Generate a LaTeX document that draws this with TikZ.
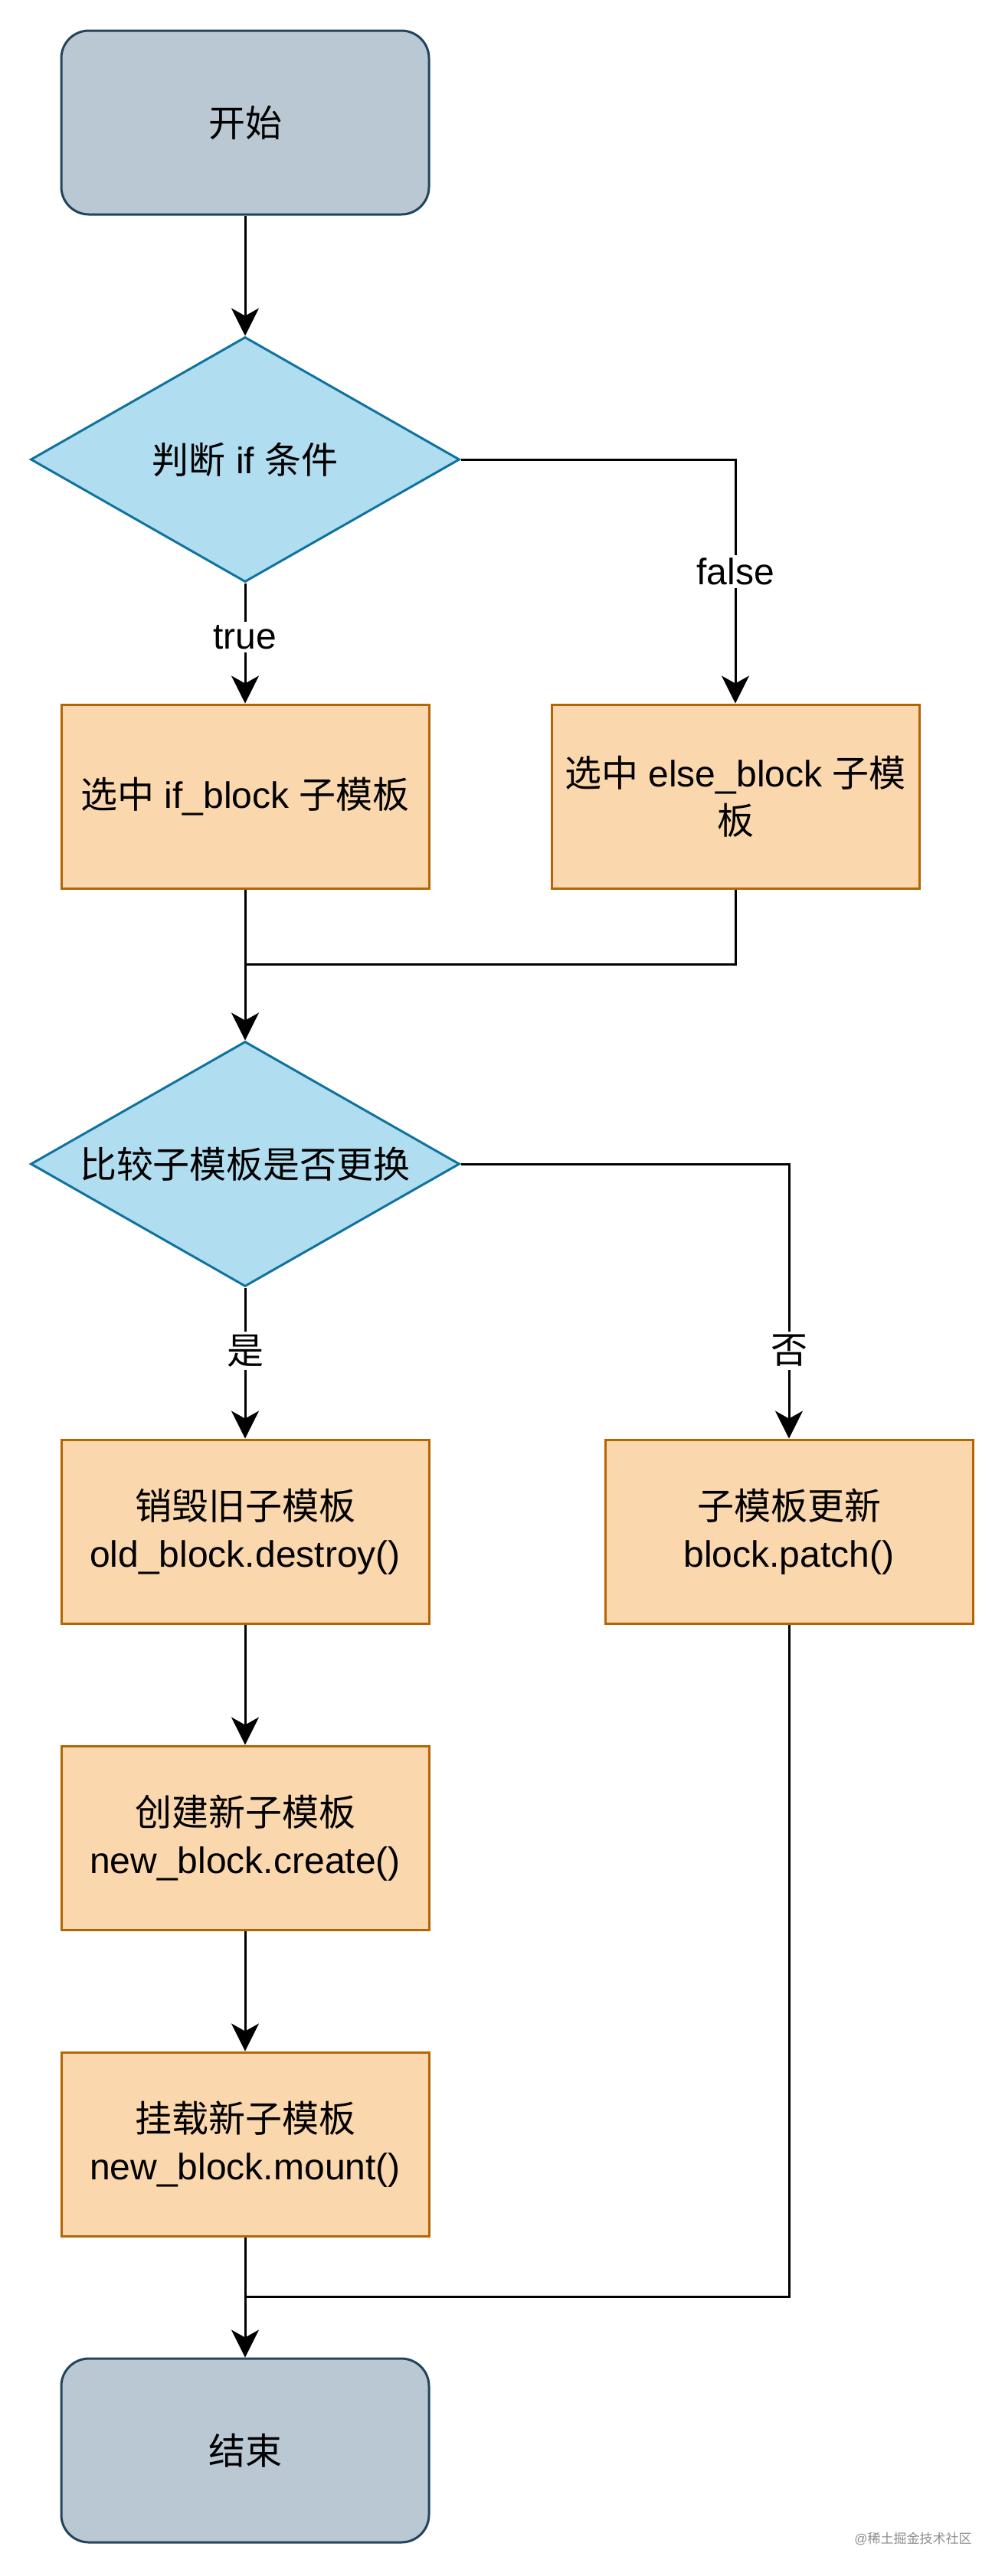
\documentclass[tikz,border=0pt]{standalone}
\usepackage{fontspec}
\setmainfont{Liberation Sans}
\newfontfamily\cjk{Noto Sans CJK SC}
\usepackage{tikz}
\usetikzlibrary{arrows.meta, positioning, shapes.geometric}
\definecolor{termfill}{HTML}{BAC8D3}
\definecolor{termline}{HTML}{23445D}
\definecolor{decfill}{HTML}{B1DDF0}
\definecolor{decline}{HTML}{10739E}
\definecolor{procfill}{HTML}{FAD7AC}
\definecolor{procline}{HTML}{B46504}
\newcommand{\flowfont}{\fontsize{24}{31}\selectfont}
\tikzstyle{arrow}=[-{Stealth[length=18pt,width=18pt,inset=5pt]}, line width=1.5pt]
\tikzstyle{line}=[line width=1.5pt]
\tikzset{
    terminal/.style={draw=termline, fill=termfill, line width=1.5pt, rounded corners=18pt,
        minimum width=240pt, minimum height=120pt, font=\flowfont, align=center},
    process/.style={draw=procline, fill=procfill, line width=1.5pt,
        minimum width=240pt, minimum height=120pt, font=\flowfont, align=center},
    decision/.style={diamond, aspect=1.75, inner sep=0pt, draw=decline, fill=decfill, line width=1.5pt,
        minimum width=280pt, minimum height=160pt, font=\flowfont, align=center},
    lbl/.style={fill=white, font=\flowfont, inner sep=2pt}
}

\begin{document}
\begin{tikzpicture}
  \useasboundingbox (0,0) rectangle (656pt,-1682pt);

  \node (start)[terminal] at (160pt,-80pt) {\cjk 开始};
  \node [decision, below=78.5pt of start] (d_if) {{\cjk 判断} if {\cjk 条件}};
  \node [process, below=78.5pt of d_if] (b_if) {{\cjk 选中} if\_block {\cjk 子模板}};
  \node [process, right=78.5pt of b_if] (b_else) {{\cjk 选中} else\_block {\cjk 子模}\\{\cjk 板}};
  \coordinate [below=49pt of b_if] (j_if);

  %%%%%%%% compare %%%%%%%%
  \node [decision, below=98.5pt of b_if] (d_cmp) {\cjk 比较子模板是否更换};
  \node [process, below=98.5pt of d_cmp] (b_destroy) {{\cjk 销毁旧子模板}\\old\_block.destroy()};
  \node [process, right=113.5pt of b_destroy] (b_patch) {{\cjk 子模板更新}\\block.patch()};
  \node [process, below=78.5pt of b_destroy] (b_create) {{\cjk 创建新子模板}\\new\_block.create()};
  \node [process, below=78.5pt of b_create] (b_mount) {{\cjk 挂载新子模板}\\new\_block.mount()};
  \coordinate [below=39pt of b_mount] (j_end);
  \node [terminal, below=78.5pt of b_mount] (stop) {\cjk 结束};

  \node (mark)[text=black!45, font=\fontsize{8.5}{10}\selectfont] at (596pt,-1657.5pt) {@{\cjk 稀土掘金技术社区}};

  % edges
  \draw[arrow] (start) -- (d_if);
  \draw[arrow] (d_if) -- node[lbl, pos=0.45] {true} (b_if);
  \draw[arrow] (d_if.east) -| node[lbl, pos=0.73] {false} (b_else);
  \draw[line] (b_else) |- (j_if);
  \draw[arrow] (b_if) -- (d_cmp);
  \draw[arrow] (d_cmp) -- node[lbl, pos=0.42] {\cjk 是} (b_destroy);
  \draw[arrow] (d_cmp.east) -| node[lbl, pos=0.84] {\cjk 否} (b_patch);
  \draw[arrow] (b_destroy) -- (b_create);
  \draw[arrow] (b_create) -- (b_mount);
  \draw[line] (b_patch) |- (j_end);
  \draw[arrow] (b_mount) -- (stop);

\end{tikzpicture}
\end{document}
